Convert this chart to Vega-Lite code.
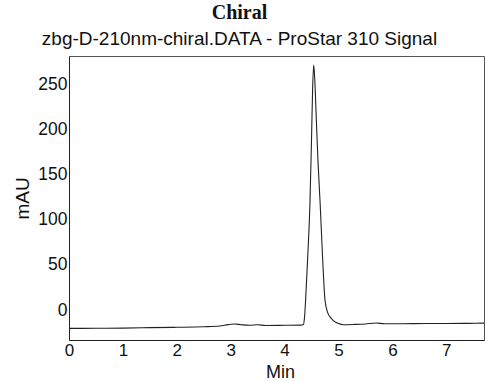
{
  "$schema": "https://vega.github.io/schema/vega-lite/v6.json",
  "width": 415,
  "height": 284,
  "autosize": {"type": "none"},
  "padding": {"left": 69, "top": 56, "right": 3, "bottom": 41},
  "background": "white",
  "title": {
    "text": "Chiral",
    "subtitle": "zbg-D-210nm-chiral.DATA - ProStar 310 Signal",
    "font": "Liberation Serif",
    "fontWeight": "bold",
    "fontSize": 20,
    "color": "#111",
    "subtitleFont": "Liberation Sans",
    "subtitleFontSize": 19,
    "subtitleColor": "#111",
    "subtitlePadding": 7,
    "anchor": "middle",
    "frame": "group",
    "dx": -37,
    "offset": 7
  },
  "data": {
    "values": [
      {"min": 0.0, "mAU": -20.4},
      {"min": 0.5, "mAU": -20.3},
      {"min": 1.0, "mAU": -20.1},
      {"min": 1.5, "mAU": -19.6},
      {"min": 2.0, "mAU": -19.2},
      {"min": 2.5, "mAU": -18.6},
      {"min": 2.8, "mAU": -17.8},
      {"min": 2.95, "mAU": -16.2},
      {"min": 3.06, "mAU": -15.5},
      {"min": 3.2, "mAU": -16.4},
      {"min": 3.35, "mAU": -17.0},
      {"min": 3.5, "mAU": -16.3},
      {"min": 3.65, "mAU": -17.2},
      {"min": 4.0, "mAU": -17.0},
      {"min": 4.3, "mAU": -16.8},
      {"min": 4.35, "mAU": -16.0},
      {"min": 4.37, "mAU": -8},
      {"min": 4.39, "mAU": 11},
      {"min": 4.43, "mAU": 60},
      {"min": 4.47, "mAU": 117},
      {"min": 4.5, "mAU": 190},
      {"min": 4.52, "mAU": 245},
      {"min": 4.54, "mAU": 272},
      {"min": 4.56, "mAU": 256},
      {"min": 4.59, "mAU": 210},
      {"min": 4.62, "mAU": 165},
      {"min": 4.66, "mAU": 118},
      {"min": 4.7, "mAU": 65},
      {"min": 4.75, "mAU": 11},
      {"min": 4.8, "mAU": -3},
      {"min": 4.86, "mAU": -9},
      {"min": 4.91, "mAU": -12},
      {"min": 5.0, "mAU": -15},
      {"min": 5.09, "mAU": -16.3},
      {"min": 5.3, "mAU": -16.0},
      {"min": 5.5, "mAU": -15.5},
      {"min": 5.7, "mAU": -14.5},
      {"min": 5.85, "mAU": -15.2},
      {"min": 6.2, "mAU": -15.2},
      {"min": 6.6, "mAU": -15.0},
      {"min": 7.0, "mAU": -15.0},
      {"min": 7.4, "mAU": -14.8},
      {"min": 7.7, "mAU": -14.6}
    ]
  },
  "mark": {"type": "line", "color": "#222", "strokeWidth": 1.1, "interpolate": "monotone", "clip": true},
  "encoding": {
    "x": {
      "field": "min",
      "type": "quantitative",
      "scale": {"domain": [0, 7.7], "nice": false, "zero": false},
      "axis": {
        "title": "Min",
        "values": [0, 1, 2, 3, 4, 5, 6, 7],
        "grid": false,
        "ticks": false,
        "labelPadding": 2,
        "labelFlush": false,
        "labelFont": "Liberation Sans",
        "labelFontSize": 17,
        "labelColor": "#111",
        "domainColor": "#222",
        "titleFont": "Liberation Sans",
        "titleFontSize": 18,
        "titleFontWeight": "normal",
        "titleColor": "#111",
        "titleX": 211,
        "titleY": 32,
        "titleBaseline": "middle"
      }
    },
    "y": {
      "field": "mAU",
      "type": "quantitative",
      "scale": {"domain": [-33.3, 282], "nice": false, "zero": false},
      "axis": {
        "title": "mAU",
        "values": [0, 50, 100, 150, 200, 250],
        "grid": false,
        "ticks": false,
        "labelPadding": 2,
        "labelFont": "Liberation Sans",
        "labelFontSize": 17.5,
        "labelColor": "#111",
        "domainColor": "#222",
        "titleFont": "Liberation Sans",
        "titleFontSize": 19,
        "titleFontWeight": "normal",
        "titleColor": "#111",
        "titleX": -47,
        "titleY": 142,
        "titleBaseline": "middle",
        "titleAlign": "center",
        "titleAngle": -90
      }
    }
  },
  "config": {"view": {"stroke": "#555", "strokeWidth": 1}}
}
